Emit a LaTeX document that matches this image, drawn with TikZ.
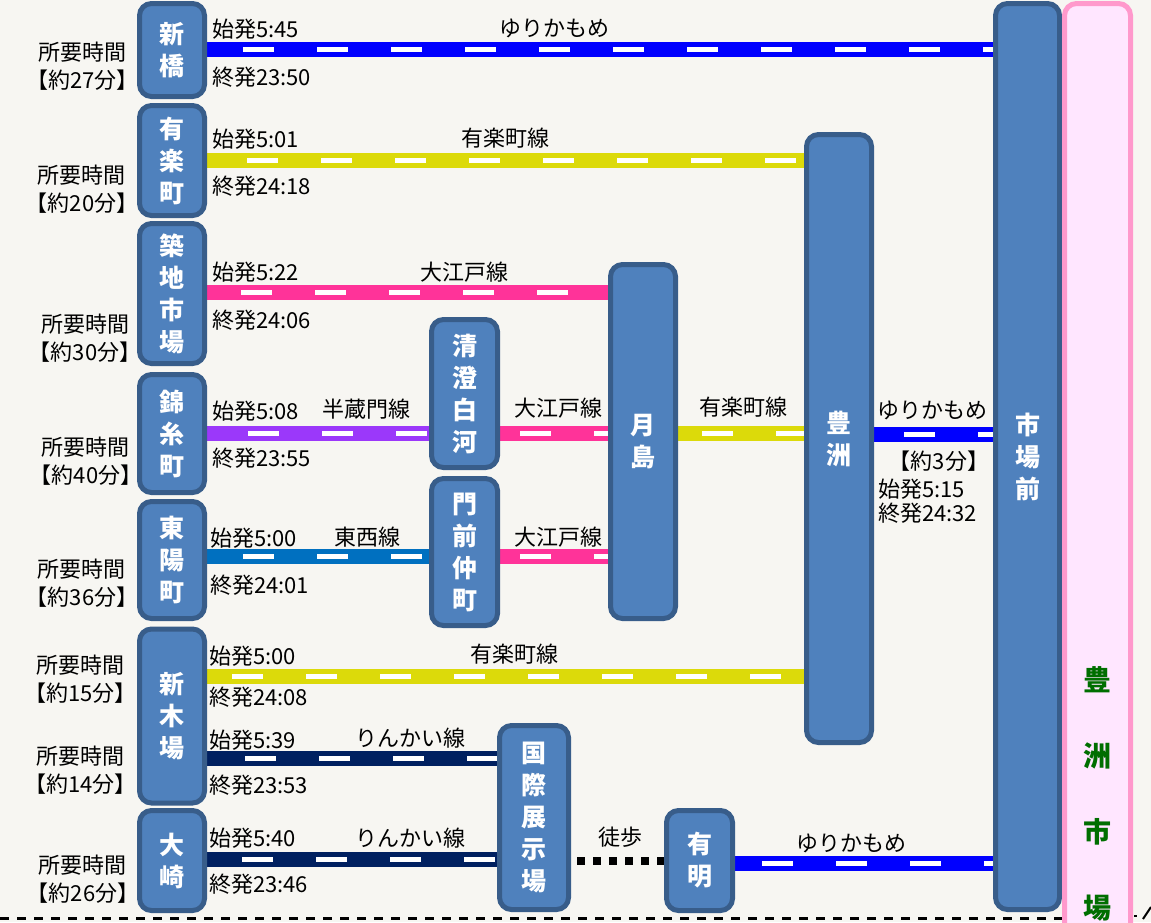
\documentclass[tikz,border=0pt]{standalone}
\usepackage{fontspec}
\setmainfont{Noto Sans CJK JP}
\usetikzlibrary{calc}
\pgfdeclarelayer{bgl}
\pgfdeclarelayer{rails}
\pgfsetlayers{bgl,rails,main}
\definecolor{bgc}{HTML}{F7F6F2}
\definecolor{stfill}{HTML}{4F81BD}
\definecolor{stborder}{HTML}{385D8A}
\definecolor{pkfill}{HTML}{FFE6FF}
\definecolor{pkborder}{HTML}{FF99CC}
\definecolor{mkgreen}{HTML}{006E00}
\definecolor{ymblue}{HTML}{0000FF}
\definecolor{ylw}{HTML}{DCDA0A}
\definecolor{oepink}{HTML}{FF3399}
\definecolor{hzpurple}{HTML}{9B38FA}
\definecolor{tzblue}{HTML}{0070C0}
\definecolor{rknavy}{HTML}{002060}
\newcommand\lblfont{\fontsize{22}{28}\selectfont}
\newcommand\stafont{\fontsize{25}{32}\selectfont\bfseries}
\newcommand\mktfont{\fontsize{28}{76}\selectfont\bfseries}
\tikzset{
  st/.style={draw=stborder, line width=5pt, fill=stfill, rounded corners=12pt,
    text=white, font=\stafont, align=center, inner sep=0pt, minimum width=65pt},
  market/.style={draw=pkborder, fill=pkfill, line width=5pt, rounded corners=12pt,
    text=mkgreen, font=\mktfont, align=center, inner sep=0pt, minimum width=66pt},
  rail/.style 2 args={line width=5pt, draw=white, dash pattern=on 31pt off 43pt,
    dash phase=#2, preaction={draw=#1, line width=15pt, solid}},
  walk/.style={line width=8pt, draw=black, dash pattern=on 8pt off 8pt, dash phase=10pt},
  edge/.style={line width=3pt, draw=black, dash pattern=on 9pt off 8pt},
  lbl/.style={font=\lblfont, inner sep=0pt, text=black},
  tm/.style={lbl, anchor=west},
  dur/.style={lbl, align=center},
}
\begin{document}
\begin{tikzpicture}[x=1pt,y=-1pt]
\useasboundingbox (0,0) rectangle (1151,922);
\clip (0,0) rectangle (1151,922);
\begin{pgfonlayer}{bgl}
\fill[bgc] (0,0) rectangle (1151,922);
\end{pgfonlayer}

% stations
\node[st, minimum height=93pt]  (shinbashi)  at (172,50)    {新\\橋};
\node[st, minimum height=110pt] (yurakucho)  at (172,160.5) {有\\楽\\町};
\node[st, minimum height=140pt] (tsukiji)    at (172,293.5) {築\\地\\市\\場};
\node[st, minimum height=118pt] (kinshicho)  at (172,433.5) {錦\\糸\\町};
\node[st, minimum height=117pt] (toyocho)    at (172,560)   {東\\陽\\町};
\node[st, minimum height=174pt] (shinkiba)   at (172,716)   {新\\木\\場};
\node[st, minimum height=100pt] (osaki)      at (172,860.5) {大\\崎};
\node[st, minimum width=66pt, minimum height=148pt] (kiyosumi) at (464.5,393.5) {清\\澄\\白\\河};
\node[st, minimum width=66pt, minimum height=147pt] (monzen)   at (464.5,552)   {門\\前\\仲\\町};
\node[st, minimum height=354pt] (tsukishima) at (643,441.5) {月\\島};
\node[st, minimum height=608pt] (toyosu)     at (839,438.5) {豊\\洲};
\node[st, minimum width=64pt, minimum height=906pt] (shijomae) at (1027.5,456.5) {市\\場\\前};
\node[st, minimum width=69pt, minimum height=184pt] (kokusai)  at (534,817.5) {国\\際\\展\\示\\場};
\node[st, minimum width=66pt, minimum height=100pt] (ariake)   at (699.5,860.5) {有\\明};
\node[market, minimum height=1581pt] (market) at (1097.5,794) {豊\\洲\\市\\場};

% rails
\begin{pgfonlayer}{rails}
\draw[rail={ymblue}{38pt}]   (shinbashi.east |- 0,49)  -- (shijomae.west |- 0,49);
\draw[rail={ylw}{34pt}]      (yurakucho.east |- 0,160) -- (toyosu.west |- 0,160);
\draw[rail={oepink}{40pt}]   (tsukiji.east |- 0,292)   -- (tsukishima.west |- 0,292);
\draw[rail={hzpurple}{33pt}] (kinshicho.east |- 0,433) -- (kiyosumi.west |- 0,433);
\draw[rail={oepink}{54pt}]   (kiyosumi.east |- 0,433)  -- (tsukishima.west |- 0,433);
\draw[rail={ylw}{50pt}]      (tsukishima.east |- 0,433) -- (toyosu.west |- 0,433);
\draw[rail={ymblue}{44pt}]   (toyosu.east |- 0,434.5)  -- (shijomae.west |- 0,434.5);
\draw[rail={tzblue}{38pt}]   (toyocho.east |- 0,556)   -- (monzen.west |- 0,556);
\draw[rail={oepink}{54pt}]   (monzen.east |- 0,556)    -- (tsukishima.west |- 0,556);
\draw[rail={ylw}{49pt}]      (shinkiba.east |- 0,676)  -- (toyosu.west |- 0,676);
\draw[rail={rknavy}{36pt}]   (shinkiba.east |- 0,758)  -- (kokusai.west |- 0,758);
\draw[rail={rknavy}{39pt}]   (osaki.east |- 0,859)     -- (kokusai.west |- 0,859);
\draw[walk]                  (kokusai.east |- 0,861)   -- (ariake.west |- 0,861);
\draw[rail={ymblue}{47pt}]   (ariake.east |- 0,863)    -- (shijomae.west |- 0,863);
\draw[edge] (0,918) -- (1064,918);
\draw[line width=2pt] (1134,916) -- (1137,916);
\draw[line width=2pt] (1143,919) -- (1151,907);
\end{pgfonlayer}

% durations
\node[dur] (d1) at (82.5,66)  {所要時間\\【約27分】};
\node[dur] (d2) at (82,189)   {所要時間\\【約20分】};
\node[dur] (d3) at (85,338)   {所要時間\\【約30分】};
\node[dur] (d4) at (86,461)   {所要時間\\【約40分】};
\node[dur] (d5) at (82,583)   {所要時間\\【約36分】};
\node[dur] (d6) at (80.5,679) {所要時間\\【約15分】};
\node[dur] (d7) at (80.5,770) {所要時間\\【約14分】};
\node[dur] (d8) at (83,879)   {所要時間\\【約26分】};

% first/last trains
\node[tm] (f1) at (212,29)    {始発5:45};
\node[tm] (l1) at (212,77)    {終発23:50};
\node[tm] (f2) at (212,139)   {始発5:01};
\node[tm] (l2) at (212,186)   {終発24:18};
\node[tm] (f3) at (212,272)   {始発5:22};
\node[tm] (l3) at (212,320)   {終発24:06};
\node[tm] (f4) at (212,411)   {始発5:08};
\node[tm] (l4) at (212,458)   {終発23:55};
\node[tm] (f5) at (210,538)   {始発5:00};
\node[tm] (l5) at (210,585)   {終発24:01};
\node[tm] (f6) at (209,656)   {始発5:00};
\node[tm] (l6) at (209,697)   {終発24:08};
\node[tm] (f7) at (209,740)   {始発5:39};
\node[tm] (l7) at (209,785)   {終発23:53};
\node[tm] (f8) at (209,838)   {始発5:40};
\node[tm] (l8) at (209,884)   {終発23:46};
\node[lbl] (m3) at (939,461)  {【約3分】};
\node[tm] (f9) at (878,489)   {始発5:15};
\node[tm] (l9) at (878,513)   {終発24:32};

% line names
\node[lbl] (n1)  at (554,28)    {ゆりかもめ};
\node[lbl] (n2)  at (505,138)   {有楽町線};
\node[lbl] (n3)  at (464.5,272) {大江戸線};
\node[lbl] (n4)  at (366.5,409) {半蔵門線};
\node[lbl] (n5)  at (558,408)   {大江戸線};
\node[lbl] (n6)  at (743,407)   {有楽町線};
\node[lbl] (n7)  at (932.5,410) {ゆりかもめ};
\node[lbl] (n8)  at (367,537)   {東西線};
\node[lbl] (n9)  at (558,537)   {大江戸線};
\node[lbl] (n10) at (514,654)   {有楽町線};
\node[lbl] (n11) at (410,738)   {りんかい線};
\node[lbl] (n12) at (410,838)   {りんかい線};
\node[lbl] (n13) at (620,837.5) {徒歩};
\node[lbl] (n14) at (851,843)   {ゆりかもめ};
\end{tikzpicture}
\end{document}
